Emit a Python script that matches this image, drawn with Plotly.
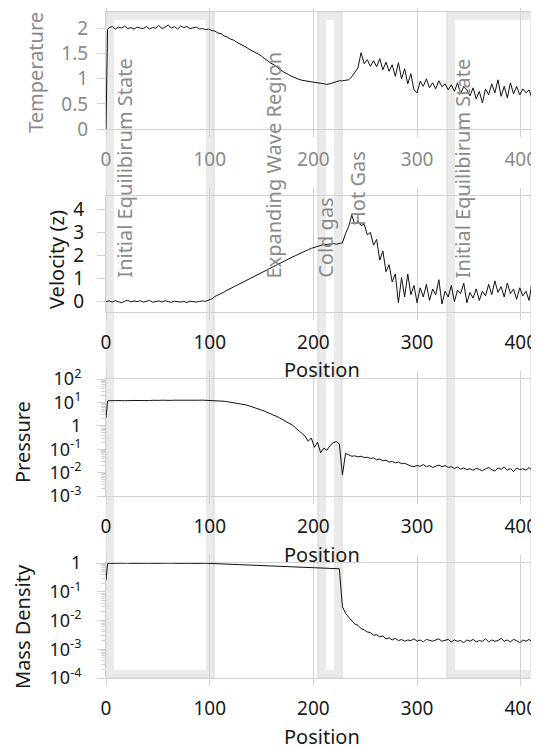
import plotly.graph_objects as go

# ---------------- data ----------------
POSITION = [0, 1.5] + list(range(3, 412, 3)) + [413]

TEMPERATURE = [
    0.0, 1.98,
    2.02, 2.04, 1.99, 2.03, 2.01, 2.05, 2.00, 2.02, 1.99, 2.03,
    2.01, 2.00, 2.04, 1.99, 2.02, 2.01, 2.06, 2.00, 2.03, 2.07,
    2.01, 2.04, 1.99, 2.05, 2.02, 2.04, 2.00, 2.02, 2.03, 1.99,
    2.00, 1.98, 1.99, 1.96, 1.95, 1.91, 1.90, 1.85, 1.83, 1.79,
    1.77, 1.73, 1.70, 1.66, 1.63, 1.59, 1.56, 1.52, 1.49, 1.45,
    1.40, 1.36, 1.31, 1.28, 1.22, 1.18, 1.14, 1.10, 1.07, 1.04,
    1.01, 0.99, 0.97, 0.96, 0.94, 0.93, 0.92, 0.91, 0.90, 0.90,
    0.89, 0.90, 0.92, 0.95, 0.96, 0.96, 0.97, 0.98, 1.04, 1.12,
    1.22, 1.52, 1.30, 1.38, 1.25, 1.36, 1.24, 1.40, 1.18, 1.33,
    1.15, 1.28, 1.05, 1.32, 1.00, 1.20, 0.90, 1.10, 0.78, 0.72,
    0.95, 0.85, 1.00, 0.82, 0.92, 0.80, 0.96, 0.84, 0.90, 0.78,
    0.88, 0.75, 0.92, 0.70, 0.85, 0.78, 0.66, 0.82, 0.60, 0.75,
    0.52, 0.80, 0.68, 0.90, 0.72, 0.98, 0.65, 0.85, 0.62, 0.92,
    0.70, 0.85, 0.68, 0.80, 0.72, 0.78, 0.60,
    0.0,
]

VELOCITY = [
    0.0, 0.02,
    0.03, -0.02, 0.04, 0.00, -0.05, 0.02, 0.05, -0.01, 0.03, 0.00,
    0.04, -0.02, 0.02, 0.05, -0.03, 0.01, 0.03, -0.02, 0.04, 0.00,
    -0.03, 0.02, 0.00, -0.02, 0.01, -0.04, 0.02, 0.00, -0.02, 0.01,
    0.03, 0.01, 0.05, 0.12, 0.22, 0.28, 0.35, 0.42, 0.50, 0.57,
    0.64, 0.71, 0.78, 0.85, 0.92, 0.99, 1.06, 1.13, 1.20, 1.27,
    1.34, 1.41, 1.48, 1.55, 1.61, 1.68, 1.74, 1.81, 1.87, 1.94,
    2.00, 2.07, 2.13, 2.19, 2.25, 2.31, 2.36, 2.41, 2.45, 2.48,
    2.48, 2.50, 2.52, 2.49, 2.51, 2.55, 2.95, 3.25, 3.75, 3.35,
    3.50, 3.30, 3.35, 2.90, 3.00, 2.45, 2.70, 1.80, 2.20, 1.30,
    1.60, 0.85, 1.20, -0.05, 1.05, 0.20, 1.20, 0.30, 0.70, -0.05,
    0.60, 0.20, 0.75, 0.05, 0.55, 0.30, 0.95, -0.10, 0.45, 0.20,
    0.70, 0.00, 0.50, 0.35, 0.80, -0.05, 0.40, 0.15, 0.55, 0.05,
    0.45, 0.25, 0.75, 0.30, 0.90, 0.40, 0.65, 0.20, 0.80, 0.35,
    0.55, 0.10, 0.60, 0.25, 0.45, 0.05, 0.90,
    0.55,
]

PRESSURE = [
    2.2, 11.5,
    11.8, 12.0, 11.9, 12.1, 12.0, 11.8, 12.2, 12.0, 12.1, 11.9,
    12.0, 12.2, 12.1, 11.9, 12.3, 12.0, 12.2, 12.4, 12.1, 12.3,
    12.2, 12.4, 12.3, 12.5, 12.3, 12.4, 12.6, 12.4, 12.5, 12.4,
    12.5, 12.3, 12.6, 12.6, 12.3, 12.0, 11.7, 11.2, 10.7, 10.2,
    9.8, 9.3, 8.9, 8.3, 7.8, 7.1, 6.5, 5.9, 5.2, 4.7,
    4.2, 3.6, 3.2, 2.8, 2.5, 2.1, 1.8, 1.55, 1.3, 1.05,
    0.80, 0.60, 0.45, 0.36, 0.22, 0.30, 0.12, 0.20, 0.07, 0.11,
    0.09, 0.14, 0.19, 0.21, 0.17, 0.008, 0.066, 0.056, 0.050, 0.052,
    0.047, 0.050, 0.044, 0.045, 0.040, 0.043, 0.035, 0.038, 0.032, 0.034,
    0.028, 0.030, 0.026, 0.028, 0.024, 0.025, 0.021, 0.019, 0.018, 0.020,
    0.0186, 0.022, 0.018, 0.020, 0.0166, 0.019, 0.021, 0.0178, 0.020, 0.0166,
    0.018, 0.015, 0.0174, 0.014, 0.0158, 0.0132, 0.0148, 0.0126, 0.0152, 0.0138,
    0.012, 0.0145, 0.0166, 0.0132, 0.0117, 0.0158, 0.0138, 0.0174, 0.0126, 0.0150,
    0.0112, 0.0158, 0.0135, 0.0145, 0.0126, 0.0166, 0.012,
    0.0132,
]

MASS_DENSITY = [
    0.25, 0.95,
    0.97, 0.98, 0.97, 0.96, 0.98, 0.97, 0.99, 0.97, 0.98, 0.97,
    0.98, 0.97, 0.99, 0.98, 0.97, 0.98, 0.99, 0.97, 0.98, 0.98,
    0.99, 0.97, 0.98, 0.99, 0.97, 0.98, 0.98, 0.97, 0.99, 0.98,
    0.97, 0.98, 0.97, 0.96, 0.95, 0.94, 0.93, 0.92, 0.91, 0.90,
    0.89, 0.88, 0.87, 0.86, 0.85, 0.84, 0.83, 0.82, 0.81, 0.81,
    0.80, 0.79, 0.79, 0.78, 0.77, 0.77, 0.76, 0.75, 0.75, 0.74,
    0.73, 0.72, 0.72, 0.71, 0.70, 0.69, 0.68, 0.67, 0.66, 0.65,
    0.64, 0.63, 0.62, 0.61, 0.63, 0.030, 0.018, 0.013, 0.010, 0.0075,
    0.0068, 0.0052, 0.0047, 0.0040, 0.0038, 0.0031, 0.0032, 0.0027, 0.0029, 0.0023,
    0.0025, 0.0021, 0.0024, 0.0020, 0.0022, 0.0019, 0.0021, 0.0020, 0.0023, 0.0019,
    0.0021, 0.0018, 0.0022, 0.0020, 0.0019, 0.0021, 0.0023, 0.0019, 0.0020, 0.0022,
    0.0018, 0.0021, 0.0019, 0.0020, 0.0017, 0.0021, 0.0019, 0.0022, 0.0018, 0.0020,
    0.0019, 0.0023, 0.0018, 0.0021, 0.0019, 0.0020, 0.0024, 0.0019, 0.0021, 0.0018,
    0.0022, 0.0020, 0.0017, 0.0021, 0.0019, 0.0022, 0.0018,
    0.00002,
]

X_TICKS = [0, 100, 200, 300, 400]
T_TICKS = [0, 0.5, 1, 1.5, 2]
T_TICKTEXT = ["0", "0.5", "1", "1.5", "2"]
V_TICKS = [0, 1, 2, 3, 4]
P_TICKS = [1e-3, 1e-2, 1e-1, 1, 10, 100]
P_TICKTEXT = ["10<sup>-3</sup>", "10<sup>-2</sup>", "10<sup>-1</sup>", "1",
              "10<sup>1</sup>", "10<sup>2</sup>"]
D_TICKS = [1e-4, 1e-3, 1e-2, 1e-1, 1]
D_TICKTEXT = ["10<sup>-4</sup>", "10<sup>-3</sup>", "10<sup>-2</sup>", "10<sup>-1</sup>", "1"]

# shaded regions (position ranges) and their labels
REGIONS = [(0, 104.2), (204.4, 227.6), (328.8, 416.6)]
REGION_LABELS = ["Initial Equilibirum State", "Expanding Wave Region", "Cold gas",
                 "Hot Gas", "Initial Equilibirum State"]
REGION_LABEL_X = [17.5, 162, 211.5, 242.5, 344]

# ---------------- styling ----------------
OFF = 8                       # page body margin of the html page
W, H = 539 - OFF, 749 - OFF
ML, MR, MT, MB = 106 - OFF, 1, 12 - OFF, H - (678 - OFF)
PW, PH = W - ML - MR, H - MT - MB
XMAX = 416.6
FONT = "Noto Sans"
GRID = "#d2d2d2"
DARK = "#1a1a1a"
GRAY = "#8a8a8a"
BAND = "#eaeaea"

def py(px):  # reference pixel row -> paper y
    return (H - MB - (px - OFF)) / PH

def px_to_paperx(px):  # reference pixel column -> paper x
    return (px - OFF - ML) / PW

domains = [
    [py(129), py(12)],
    [py(312), py(196)],
    [py(496), py(379)],
    [py(678), py(563)],
]

fig = go.Figure()
series = [TEMPERATURE, VELOCITY, PRESSURE, MASS_DENSITY]
for i, s in enumerate(series):
    suf = "" if i == 0 else str(i + 1)
    fig.add_trace(go.Scatter(x=POSITION, y=s, mode="lines",
                             line=dict(color="#111111", width=1),
                             xaxis="x" + suf, yaxis="y" + suf,
                             showlegend=False, hoverinfo="skip"))

def xaxis(i, color):
    return dict(domain=[0, 1], anchor="y" + ("" if i == 0 else str(i + 1)),
                range=[0, XMAX], tickmode="array", tickvals=X_TICKS,
                showgrid=True, gridcolor=GRID, gridwidth=1,
                showline=True, linecolor=GRID, linewidth=1, mirror="allticks",
                ticks="outside", ticklen=7, tickcolor=GRID, zeroline=False,
                tickfont=dict(family=FONT, size=19, color=color),
                ticklabelstandoff=6, automargin=False)

def yaxis(i, color, standoff, **kw):
    d = dict(domain=domains[i], anchor="x" + ("" if i == 0 else str(i + 1)),
             showgrid=False, zeroline=False, showline=True, linecolor=GRID,
             linewidth=1, mirror="allticks", ticks="outside", ticklen=8,
             tickcolor=GRID, tickfont=dict(family=FONT, size=19, color=color),
             ticklabelstandoff=standoff, automargin=False)
    d.update(kw)
    return d

def minor_log(lo, hi):
    vals = []
    for e in range(lo, hi):
        for m in range(2, 10):
            vals.append(m * 10 ** e)
    return dict(tickmode="array", tickvals=vals, ticks="outside", ticklen=4,
                tickcolor=GRID, showgrid=False)

layout = dict(
    width=W, height=H, margin=dict(l=ML, r=MR, t=MT, b=MB, autoexpand=False),
    paper_bgcolor="white", plot_bgcolor="white", showlegend=False,
    xaxis=xaxis(0, GRAY), xaxis2=xaxis(1, DARK), xaxis3=xaxis(2, DARK),
    xaxis4=xaxis(3, DARK),
    yaxis=yaxis(0, GRAY, 5, range=[0, 2.33], tickmode="array", tickvals=T_TICKS,
                ticktext=T_TICKTEXT),
    yaxis2=yaxis(1, DARK, 9, range=[-0.45, 4.58], tickmode="array", tickvals=V_TICKS),
    yaxis3=yaxis(2, DARK, 12, type="log", range=[-3, 2], tickmode="array",
                 tickvals=P_TICKS, ticktext=P_TICKTEXT, minor=minor_log(-3, 2),
                 tickfont=dict(family=FONT, size=18, color=DARK)),
    yaxis4=yaxis(3, DARK, 12, type="log", range=[-4, 0], tickmode="array",
                 tickvals=D_TICKS, ticktext=D_TICKTEXT, minor=minor_log(-4, 0),
                 tickfont=dict(family=FONT, size=18, color=DARK)),
)
fig.update_layout(**layout)

# region bands
inset = 4 * XMAX / PW
shapes = []
for (a, b) in REGIONS:
    shapes.append(dict(type="rect", xref="x", yref="paper", layer="below",
                       x0=a + inset, x1=b - inset, y0=py(674), y1=py(16),
                       line=dict(color=BAND, width=8), fillcolor="rgba(0,0,0,0)"))
    shapes.append(dict(type="rect", xref="x", yref="paper", layer="below",
                       x0=a, x1=b, y0=py(678), y1=py(12),
                       line=dict(color="#d6d6d6", width=1), fillcolor="rgba(0,0,0,0)"))
fig.update_layout(shapes=shapes)

ann = []
# y-axis titles
ytitles = [("Temperature", 35, 73, GRAY), ("Velocity (z)", 56, 260, DARK),
           ("Pressure", 22, 442, DARK), ("Mass Density", 22, 627, DARK)]
for t, xpx, ypx, c in ytitles:
    ann.append(dict(text=t, xref="paper", yref="paper", x=px_to_paperx(xpx), y=py(ypx),
                    xanchor="center", yanchor="middle", textangle=-90, showarrow=False,
                    font=dict(family=FONT, size=20, color=c)))
# x-axis titles
for ypx in [369, 554, 736]:
    ann.append(dict(text="Position", xref="paper", yref="paper", x=0.5, y=py(ypx),
                    xanchor="center", yanchor="middle", showarrow=False,
                    font=dict(family=FONT, size=20, color=DARK)))
# region labels
for i, (t, xv) in enumerate(zip(REGION_LABELS, REGION_LABEL_X)):
    bottom = 228 if t == "Hot Gas" else 280
    ann.append(dict(text=t, xref="x", yref="paper", x=xv, y=py(bottom),
                    xanchor="center", yanchor="bottom", textangle=-90, showarrow=False,
                    font=dict(family=FONT, size=20, color=GRAY)))
fig.update_layout(annotations=ann)

fig.write_html("out.html")
